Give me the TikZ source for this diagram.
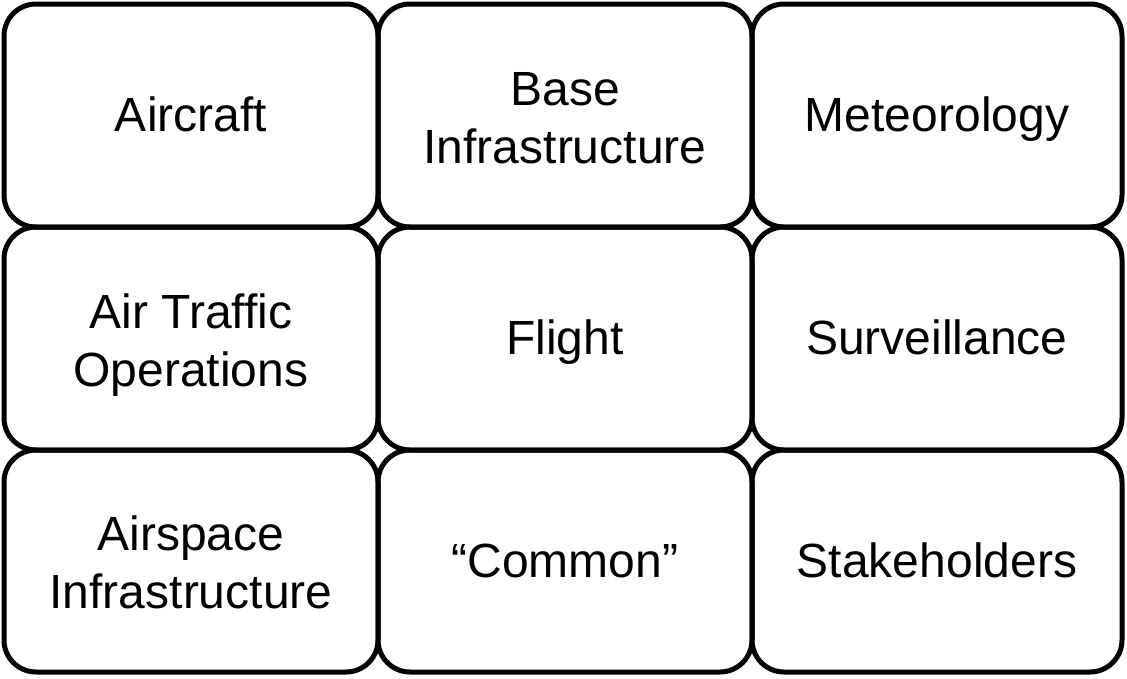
\documentclass[tikz,border=0pt]{standalone}
\usepackage{fontspec}
\setmainfont{Liberation Sans}
\begin{document}
\begin{tikzpicture}[x=1pt,y=-1pt,
  cell/.style={draw=black, line width=5pt, rounded corners=32pt, align=center, inner sep=0pt},
  oneline/.style={cell, font=\fontsize{48}{58}\selectfont, text height=32pt, text depth=0pt},
  twoline/.style={cell, font=\fontsize{48}{58}\selectfont, text height=95pt, text depth=0pt}]
\useasboundingbox (0,0) rectangle (1127,678);
\def\cellA#1#2#3#4#5#6#7{\node[#1, minimum width=#5pt, minimum height=#6pt] (#2) at (#3,#4) {#7};}
\cellA{oneline}{a}{191}{115.5}{374}{223}{Aircraft}
\cellA{twoline}{b}{565}{115.5}{374}{223}{Base\\Infrastructure}
\cellA{oneline}{c}{937}{115.5}{370}{223}{Meteorology}
\cellA{twoline}{d}{191}{338.5}{374}{223}{Air Traffic\\Operations}
\cellA{oneline}{e}{565}{338.5}{374}{223}{Flight}
\cellA{oneline}{f}{937}{338.5}{370}{223}{Surveillance}
\cellA{twoline}{g}{191}{561}{374}{222}{Airspace\\Infrastructure}
\cellA{oneline}{h}{565}{561}{374}{222}{“Common”}
\cellA{oneline}{i}{937}{561}{370}{222}{Stakeholders}
\end{tikzpicture}
\end{document}
